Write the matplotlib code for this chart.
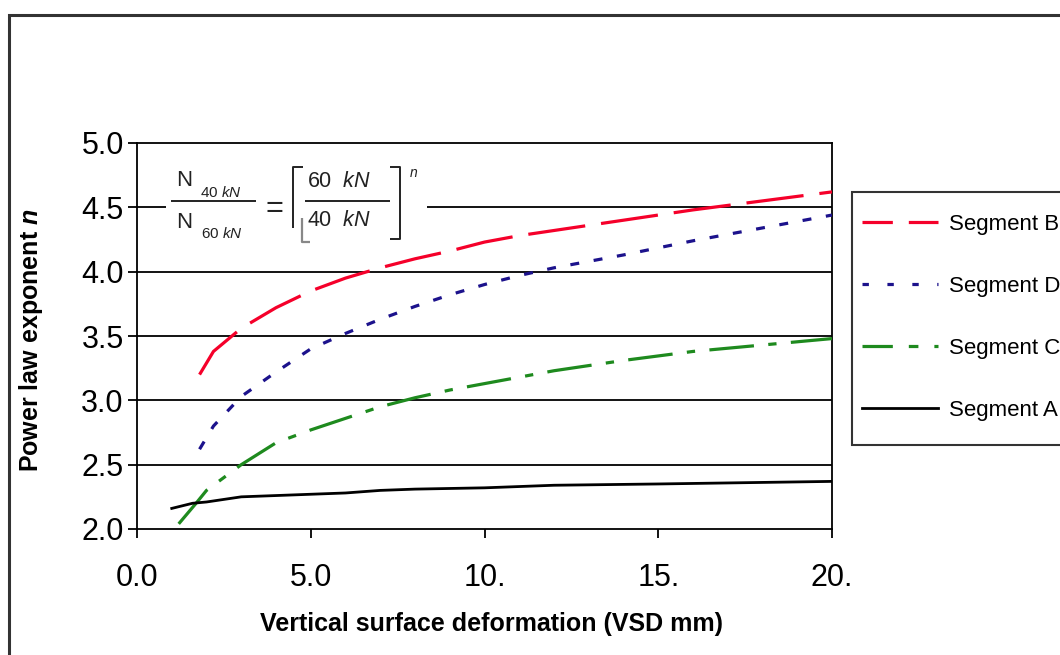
import numpy as np
import matplotlib
matplotlib.use("Agg")
from matplotlib import pyplot as plt
from matplotlib.patches import Rectangle
from matplotlib.lines import Line2D

plt.rcParams["font.family"] = ["Liberation Sans", "DejaVu Sans"]
plt.rcParams["mathtext.fontset"] = "custom"
plt.rcParams["mathtext.rm"] = "Liberation Sans"
plt.rcParams["mathtext.it"] = "Liberation Sans:italic"
plt.rcParams["mathtext.bf"] = "Liberation Sans:bold"
plt.rcParams["mathtext.bfit"] = "Liberation Sans:bold:italic"

# values
seg_b_x = [1.8, 2.2, 3.0, 4.0, 5.0, 6.0, 7.0, 8.0, 9.0, 10.0, 11.0, 12.0, 14.0, 16.0, 18.0, 20.0]
seg_b_y = [3.20, 3.38, 3.56, 3.72, 3.85, 3.95, 4.03, 4.10, 4.16, 4.23, 4.28, 4.32, 4.40, 4.48, 4.55, 4.62]

seg_d_x = [1.8, 2.2, 3.0, 4.0, 5.0, 6.0, 7.0, 8.0, 9.0, 10.0, 11.0, 12.0, 14.0, 16.0, 18.0, 20.0]
seg_d_y = [2.62, 2.80, 3.03, 3.22, 3.40, 3.52, 3.63, 3.73, 3.82, 3.90, 3.97, 4.03, 4.13, 4.24, 4.34, 4.44]

seg_c_x = [1.2, 1.7, 2.0, 2.5, 3.0, 4.0, 5.0, 6.0, 7.0, 8.0, 9.0, 10.0, 11.0, 12.0, 14.0, 16.0, 18.0, 20.0]
seg_c_y = [2.04, 2.20, 2.30, 2.40, 2.50, 2.67, 2.77, 2.86, 2.95, 3.02, 3.08, 3.13, 3.18, 3.23, 3.31, 3.38, 3.43, 3.48]

seg_a_x = [1.0, 1.6, 2.0, 3.0, 4.0, 5.0, 6.0, 7.0, 8.0, 10.0, 12.0, 15.0, 20.0]
seg_a_y = [2.16, 2.20, 2.21, 2.25, 2.26, 2.27, 2.28, 2.30, 2.31, 2.32, 2.34, 2.35, 2.37]

x_ticks = [0, 5, 10, 15, 20]
x_ticklabels = ["0.0", "5.0", "10.", "15.", "20."]
y_ticks = [2.0, 2.5, 3.0, 3.5, 4.0, 4.5, 5.0]

W, H = 1060, 655
fig = plt.figure(figsize=(W / 100, H / 100), dpi=100)
fig.patches.append(Rectangle((0.0085, -0.2), 1.5, 0.2 + 0.977, transform=fig.transFigure,
                             fill=False, edgecolor="#333333", linewidth=2.2, zorder=0))
# legend frame (runs past the right edge, like the source)
fig.patches.append(Rectangle((852 / W, 1 - 445 / H), 0.5, 253 / H, transform=fig.transFigure,
                             facecolor="white", edgecolor="#333333", linewidth=1.5, zorder=1))

ax = fig.add_axes([137 / W, 1 - 529 / H, 695 / W, 386 / H])

for y in y_ticks[1:-1]:
    ax.axhline(y, color="black", linewidth=1.3, zorder=1)

ax.plot(seg_b_x, seg_b_y, color="#f5002a", linewidth=2.3, linestyle=(0, (18, 5)), zorder=3)
ax.plot(seg_d_x, seg_d_y, color="#1c128c", linewidth=2.3, linestyle=(0, (2.8, 4.6)), zorder=3)
ax.plot(seg_c_x, seg_c_y, color="#1e8a1e", linewidth=2.3, linestyle=(0, (14, 4.5, 2.6, 4.5)), zorder=3)
ax.plot(seg_a_x, seg_a_y, color="black", linewidth=2.0, zorder=3)

ax.set_xlim(0, 20)
ax.set_ylim(2.0, 5.0)
ax.set_xticks(x_ticks)
ax.set_xticklabels(x_ticklabels)
ax.set_yticks(y_ticks)
ax.set_yticklabels([f"{v:.1f}" for v in y_ticks])
ax.tick_params(axis="both", direction="out", length=6.5, width=1.3, labelsize=22, colors="black")
ax.tick_params(axis="x", pad=18)
ax.tick_params(axis="y", pad=3)
for s in ax.spines.values():
    s.set_linewidth(1.3)

ax.set_xlabel("Vertical surface deformation (VSD mm)", fontsize=18, fontweight="bold")
ax.set_ylabel(r"Power law exponent $\mathbfit{n}$", fontsize=18, fontweight="bold")
ax.xaxis.set_label_coords(0.51, -0.215)
ax.yaxis.set_label_coords(-0.132, 0.49)

# formula box, laid out in figure pixels
def fx(px):
    return px / W

def fy(py):
    return 1 - py / H

def ftext(px, py, s, size, **kw):
    ax.text(fx(px), fy(py), s, transform=fig.transFigure, fontsize=size, color="#222222",
            va="baseline", ha="left", zorder=6, clip_on=False, **kw)

def fline(xs, ys, color="#222222", lw=1.4):
    ax.add_line(Line2D([fx(v) for v in xs], [fy(v) for v in ys], transform=fig.transFigure,
                       color=color, linewidth=lw, zorder=6, clip_on=False,
                       solid_capstyle="butt"))

ax.add_patch(Rectangle((fx(166), fy(215)), fx(427) - fx(166), fy(199) - fy(215),
                       transform=fig.transFigure, facecolor="white", edgecolor="none",
                       zorder=5, clip_on=False))
ftext(176, 186, "N", 16)
ftext(200, 197, r"40 $\mathit{kN}$", 11)
fline([171, 256], [201.5, 201.5])
ftext(176, 228, "N", 16)
ftext(201, 238, r"60 $\mathit{kN}$", 11)
ax.text(fx(274), fy(209), "=", transform=fig.transFigure, fontsize=22, color="#222222",
        va="center", ha="center", zorder=6, clip_on=False)
fline([303, 293, 293], [167, 167, 228])
fline([302, 302, 310], [218, 242, 242], color="#888888", lw=1.6)
ftext(307, 187, r"60  $\mathit{kN}$", 15.5)
fline([305, 390], [201.5, 201.5])
ftext(307, 226, r"40  $\mathit{kN}$", 15.5)
fline([390, 400, 400, 390], [167, 167, 239, 239])
ftext(409, 177, r"$\mathit{n}$", 10)

legend_handles = [
    Line2D([], [], color="#f5002a", linewidth=2.3, linestyle=(0, (9.5, 5))),
    Line2D([], [], color="#1c128c", linewidth=2.3, linestyle=(0, (2.0, 5.8))),
    Line2D([], [], color="#1e8a1e", linewidth=2.3, linestyle=(0, (9.5, 5, 3, 5))),
    Line2D([], [], color="black", linewidth=2.0),
]
legend_labels = ["Segment B", "Segment D", "Segment C", "Segment A"]
leg = fig.legend(legend_handles, legend_labels, loc="upper left",
                 bbox_to_anchor=(852 / W, 1 - 204 / H), fontsize=16,
                 handlelength=3.4, handletextpad=0.5, labelspacing=1.84,
                 borderpad=0.45, borderaxespad=0, frameon=False)

fig.savefig("out.png", dpi=100)
